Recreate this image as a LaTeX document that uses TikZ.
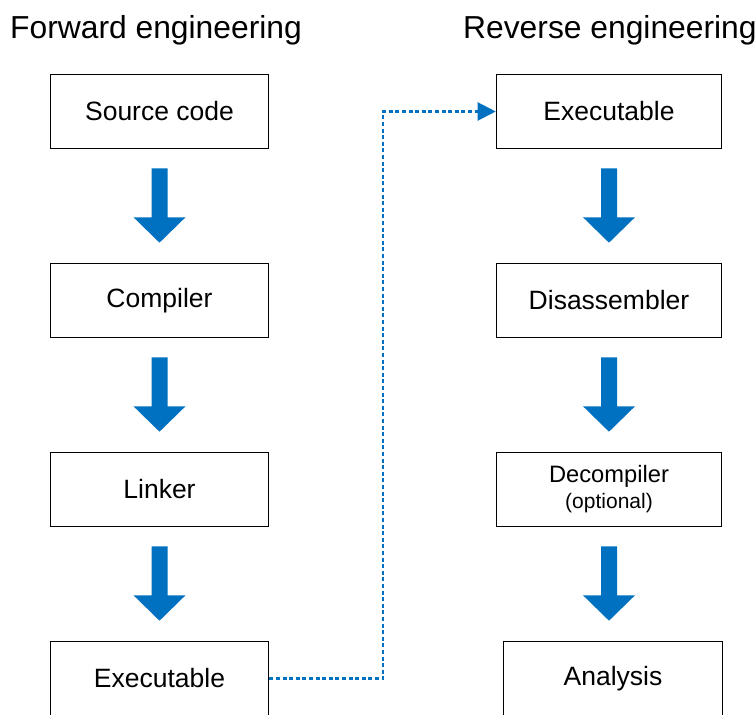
\documentclass[tikz,border=0pt]{standalone}
\usepackage{fontspec}
\setmainfont{Liberation Sans}
\usetikzlibrary{calc,arrows.meta}
\definecolor{arrblue}{RGB}{0,112,192}
\newcommand\blockarrow[2]{%
  \coordinate (tip#1) at (#1.south |- #2.north);
  \fill[arrblue] ($(#1.south)+(-8,19)$) -- ($(#1.south)+(8,19)$) -- ($(#1.south)+(8,68)$)
    -- ($(#1.south)+(26,68)$) -- ($(tip#1)+(0,-20)$) -- ($(#1.south)+(-26,68)$)
    -- ($(#1.south)+(-8,68)$) -- cycle;}
\begin{document}
\begin{tikzpicture}[x=1pt,y=-1pt,
  box/.style={draw=black,line width=1.6pt,minimum width=218pt,minimum height=74pt,inner sep=0pt,font=\fontsize{26.5}{30}\selectfont},
  rbox/.style={box,minimum width=225pt},
  title/.style={anchor=base west,inner sep=0pt,font=\fontsize{31.8}{36}\selectfont},
  link/.style={arrblue,line width=2.2pt,dash pattern=on 4pt off 2.6pt,-{Triangle[length=18pt,width=18pt]}}]
\clip (0,0) rectangle (756,715);
\node[title] (tf) at (10,38) {Forward engineering};
\node[title] (tr) at (463,38) {Reverse engineering};
\node[box] (s) at (159.5,111.5) {Source code};
\node[box] (c) at (159.5,300.5) {Compiler};
\node[box] (l) at (159.5,489.5) {Linker};
\node[box] (e) at (159.5,678.5) {Executable};
\node[rbox] (re) at (609,111.5) {Executable};
\node[rbox] (d) at (609,300.5) {Disassembler};
\node[rbox,align=center,font=\fontsize{23.7}{27}\selectfont] (dc) at (609,489.5) {Decompiler\\[-1pt]{\fontsize{21}{25}\selectfont (optional)}};
\node[box,minimum width=219pt] (a) at (613,678.5) {Analysis};
\blockarrow{s}{c}
\blockarrow{c}{l}
\blockarrow{l}{e}
\blockarrow{re}{d}
\blockarrow{d}{dc}
\blockarrow{dc}{a}
\draw[link] (e.east) -- ++(114,0) |- (re.west);
\end{tikzpicture}
\end{document}
